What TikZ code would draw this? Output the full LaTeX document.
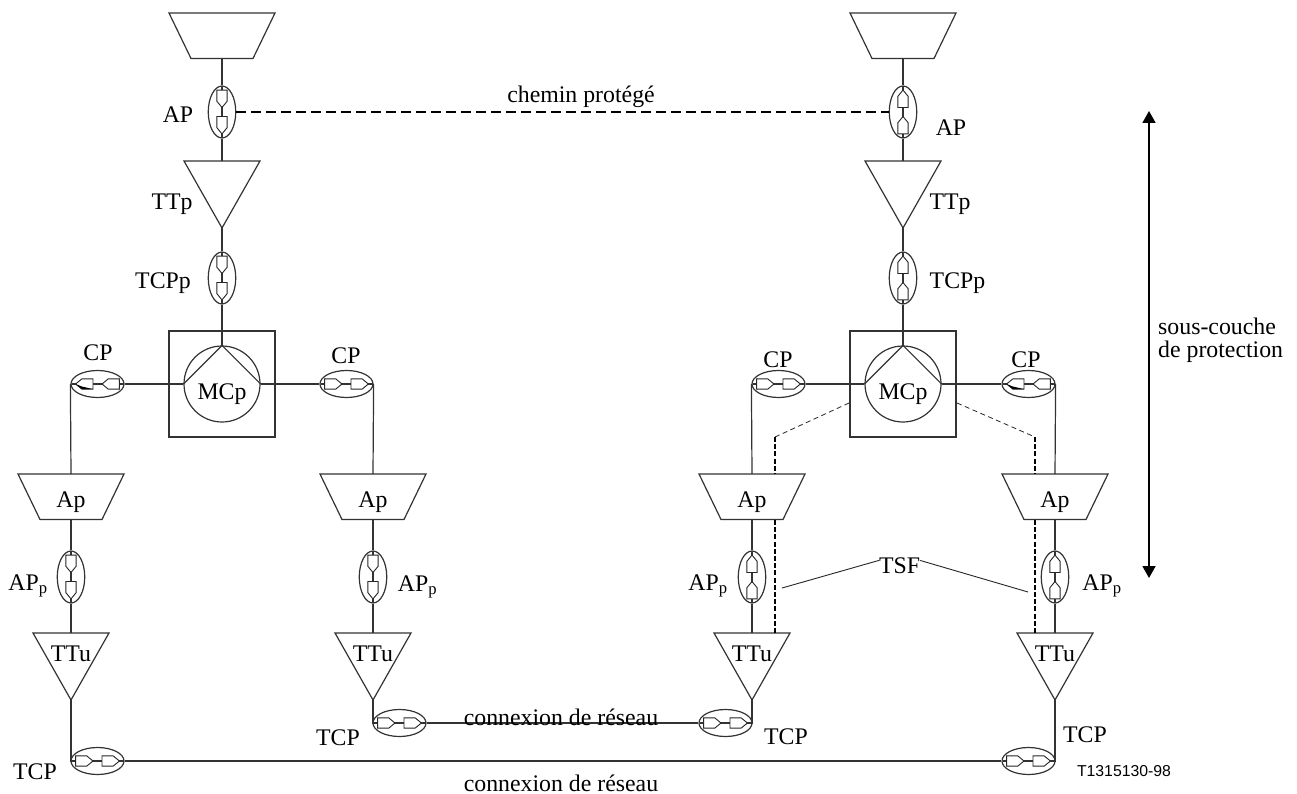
\documentclass[tikz,border=0pt]{standalone}
\usepackage{fontspec}
\setmainfont{Liberation Serif}
\newfontfamily\labelsans{Liberation Sans}
\usetikzlibrary{shapes.geometric,arrows.meta}
\tikzset{
  ln/.style={line width=1.2pt,black!80},
  thin ln/.style={line width=0.9pt,black!85},
  dash ln/.style={line width=1.7pt,black,dash pattern=on 10pt off 5pt},
  fine dash/.style={line width=0.8pt,black!85,dash pattern=on 5pt off 3.5pt},
  thick dash/.style={line width=1.5pt,black,dash pattern=on 5pt off 2.2pt},
  ovalv/.style={draw,ellipse,ln,inner sep=0pt,minimum width=27.5pt,minimum height=52pt},
  ovalh/.style={draw,ellipse,ln,inner sep=0pt,minimum width=53pt,minimum height=27pt},
  txt/.style={inner sep=0pt,font=\fontsize{23.8}{27}\selectfont},
  penta/.style={draw,thin ln,fill=white},
}
% cp: name, x, y, rotation (0 right, -90 down, 90 up, 180 left), oval style
\newcommand{\pentaat}[1]{\draw[penta] (#1-8.7,-5.1) -- (#1+2.5,-5.1) -- (#1+8.7,0) -- (#1+2.5,5.1) -- (#1-8.7,5.1) -- cycle;}
\newcommand{\cpoint}[5]{%
  \node[#5] (#1) at (#2,#3) {};
  \begin{scope}[shift={(#2,#3)},rotate=#4]
    \draw[ln] (-26,0) -- (26,0);
    \pentaat{-13.2}
    \pentaat{13.2}
  \end{scope}}
% same, pointing left, outer pentagon has a black wedge
\newcommand{\cpointw}[3]{%
  \cpoint{#1}{#2}{#3}{180}{ovalh}
  \begin{scope}[shift={(#2,#3)},rotate=180]
    \fill[black] (21.9,0) -- (15.7,-5.1) -- (4.5,-5.1) -- (15.7,-2.5) -- cycle;
  \end{scope}}
% adaptation trapezium: name, cx, top y, text
\newcommand{\trapez}[4]{%
  \draw[ln] (#2-53,#3) -- (#2+53,#3) -- (#2+31,#3+45.5) -- (#2-31,#3+45.5) -- cycle;
  \coordinate (#1-t) at (#2,#3);
  \coordinate (#1-b) at (#2,#3+45.5);
  \node[txt] (#1) at (#2,#3+28.5) {#4};}
% termination triangle: name, cx, top y, text
\newcommand{\ttri}[4]{%
  \draw[ln] (#2-38,#3) -- (#2+38,#3) -- (#2,#3+67) -- cycle;
  \coordinate (#1-t) at (#2,#3);
  \coordinate (#1-b) at (#2,#3+67);
  \node[txt] (#1) at (#2,#3+21) {#4};}
% matrix: name, cx, cy
\newcommand{\mcp}[3]{%
  \draw[ln] (#2-53,#3-53) rectangle (#2+53,#3+53);
  \node[draw,circle,ln,inner sep=0pt,minimum size=76pt] (#1) at (#2,#3) {};
  \coordinate (#1-top) at (#2,#3-53);
  \draw[ln] (#1.west) -- (#1.north) -- (#1.east);
  \node[txt] (#1-t) at (#2,#3+10.5) {MCp};}
\newcommand{\lab}[4]{\node[txt] (#1) at (#2,#3) {#4};}
\begin{document}
\begin{tikzpicture}[x=1pt,y=-1pt]
\useasboundingbox (0,0) rectangle (1297,794);
\fill[white] (0,0) rectangle (1297,794);

% left protected stack
\trapez{a1}{222}{13}{}
\cpoint{apl}{222}{112}{-90}{ovalv}
\ttri{ttpl}{222}{161}{}
\cpoint{tcpl}{222}{278}{-90}{ovalv}
\mcp{ml}{222}{384}
\draw[ln] (a1-b) -- (apl.north);
\draw[ln] (apl.south) -- (ttpl-t);
\draw[ln] (ttpl-b) -- (tcpl.north);
\draw[ln] (tcpl.south) -- (ml.north);

% left matrix branches
\cpointw{cpla}{97.5}{384}
\cpoint{cplb}{346.5}{384}{0}{ovalh}
\draw[ln] (cpla.east) -- (ml.west);
\draw[ln] (ml.east) -- (cplb.west);
\trapez{apa}{71}{474}{Ap}
\trapez{apb}{373}{474}{Ap}
\draw[ln] (cpla.west) -- (apa-t);
\draw[ln] (cplb.east) -- (apb-t);
\cpoint{appa}{71}{577}{-90}{ovalv}
\cpoint{appb}{373}{577}{-90}{ovalv}
\ttri{tta}{71}{633}{TTu}
\ttri{ttb}{373}{633}{TTu}
\draw[ln] (apa-b) -- (appa.north);
\draw[ln] (apb-b) -- (appb.north);
\draw[ln] (appa.south) -- (tta-t);
\draw[ln] (appb.south) -- (ttb-t);

% right protected stack
\trapez{a2}{903}{13}{}
\cpoint{apr}{903}{112}{90}{ovalv}
\ttri{ttpr}{903}{161}{}
\cpoint{tcpr}{903}{278}{90}{ovalv}
\mcp{mr}{903}{384}
\draw[ln] (a2-b) -- (apr.north);
\draw[ln] (apr.south) -- (ttpr-t);
\draw[ln] (ttpr-b) -- (tcpr.north);
\draw[ln] (tcpr.south) -- (mr.north);

% right matrix branches
\cpoint{cprc}{778.5}{384}{0}{ovalh}
\cpointw{cprd}{1028.5}{384}
\draw[ln] (cprc.east) -- (mr.west);
\draw[ln] (mr.east) -- (cprd.west);
\trapez{apc}{752}{474}{Ap}
\trapez{apd}{1055}{474}{Ap}
\draw[ln] (cprc.west) -- (apc-t);
\draw[ln] (cprd.east) -- (apd-t);
\cpoint{appc}{752}{577}{90}{ovalv}
\cpoint{appd}{1055}{577}{90}{ovalv}
\ttri{ttc}{752}{633}{TTu}
\ttri{ttd}{1055}{633}{TTu}
\draw[ln] (apc-b) -- (appc.north);
\draw[ln] (apd-b) -- (appd.north);
\draw[ln] (appc.south) -- (ttc-t);
\draw[ln] (appd.south) -- (ttd-t);

% network connections
\cpoint{tcpa}{97.5}{761}{0}{ovalh}
\cpoint{tcpb}{399.5}{723}{0}{ovalh}
\cpoint{tcpc}{725.5}{723}{0}{ovalh}
\cpoint{tcpd}{1028.5}{761}{0}{ovalh}
\draw[ln] (tta-b) |- (tcpa.west);
\draw[ln] (ttb-b) |- (tcpb.west);
\draw[ln] (ttc-b) |- (tcpc.east);
\draw[ln] (ttd-b) |- (tcpd.east);
\draw[ln] (tcpb.east) -- (tcpc.west);
\draw[ln] (tcpa.east) -- (tcpd.west);

% protected path
\draw[dash ln] (apl.east) -- (apr.west);

% TSF signals
\coordinate (dc1) at (849,403);
\coordinate (dc2) at (775,437);
\coordinate (dc3) at (775,474);
\coordinate (dc4) at (775,520);
\coordinate (dc5) at (775,633);
\coordinate (dd1) at (957,403);
\coordinate (dd2) at (1035,437);
\coordinate (dd3) at (1035,474);
\coordinate (dd4) at (1035,520);
\coordinate (dd5) at (1035,633);
\draw[fine dash] (dc1) -- (dc2);
\draw[fine dash] (dd1) -- (dd2);
\draw[thick dash] (dc2) -- (dc3);
\draw[thick dash] (dd2) -- (dd3);
\draw[thick dash] (dc4) -- (dc5);
\draw[thick dash] (dd4) -- (dd5);
\lab{tsf}{899.5}{566}{TSF}
\coordinate (tsfa) at (782,588);
\coordinate (tsfb) at (1028,592);
\draw[thin ln] (tsfa) -- (tsf.165);
\draw[thin ln] (tsf.15) -- (tsfb);

% sublayer arrow
\coordinate (ar1) at (1149,111);
\coordinate (ar2) at (1149,578);
\draw[line width=1.8pt,black,{Triangle[length=12pt,width=13pt]}-{Triangle[length=12pt,width=13pt]}] (ar1) -- (ar2);

% labels
\lab{l1}{581}{97}{chemin protégé}
\lab{l2}{178}{115}{AP}
\lab{l3}{951}{128}{AP}
\lab{l4}{172}{204}{TTp}
\lab{l5}{950}{204}{TTp}
\lab{l6}{163}{283}{TCPp}
\lab{l7}{957.5}{283}{TCPp}
\lab{l8}{98}{352.5}{CP}
\lab{l9}{346}{356}{CP}
\lab{l10}{778}{360}{CP}
\lab{l11}{1026}{360}{CP}
\node[txt,anchor=west] (l12) at (1158,326) {sous-couche};
\node[txt,anchor=west] (l13) at (1158,352) {de protection};
\lab{l14}{28}{586}{AP\textsubscript{p}}
\lab{l15}{417.5}{587}{AP\textsubscript{p}}
\lab{l16}{708}{586}{AP\textsubscript{p}}
\lab{l17}{1102}{586}{AP\textsubscript{p}}
\lab{l18}{338}{738}{TCP}
\lab{l19}{786}{737}{TCP}
\lab{l20}{1085}{735}{TCP}
\lab{l21}{35}{772}{TCP}
\lab{l22}{561}{717}{connexion de réseau}
\lab{l23}{561}{783}{connexion de réseau}
\node[inner sep=0pt,font=\labelsans\fontsize{15.8}{18}\selectfont] (code) at (1124,771) {T1315130-98};
\end{tikzpicture}
\end{document}
